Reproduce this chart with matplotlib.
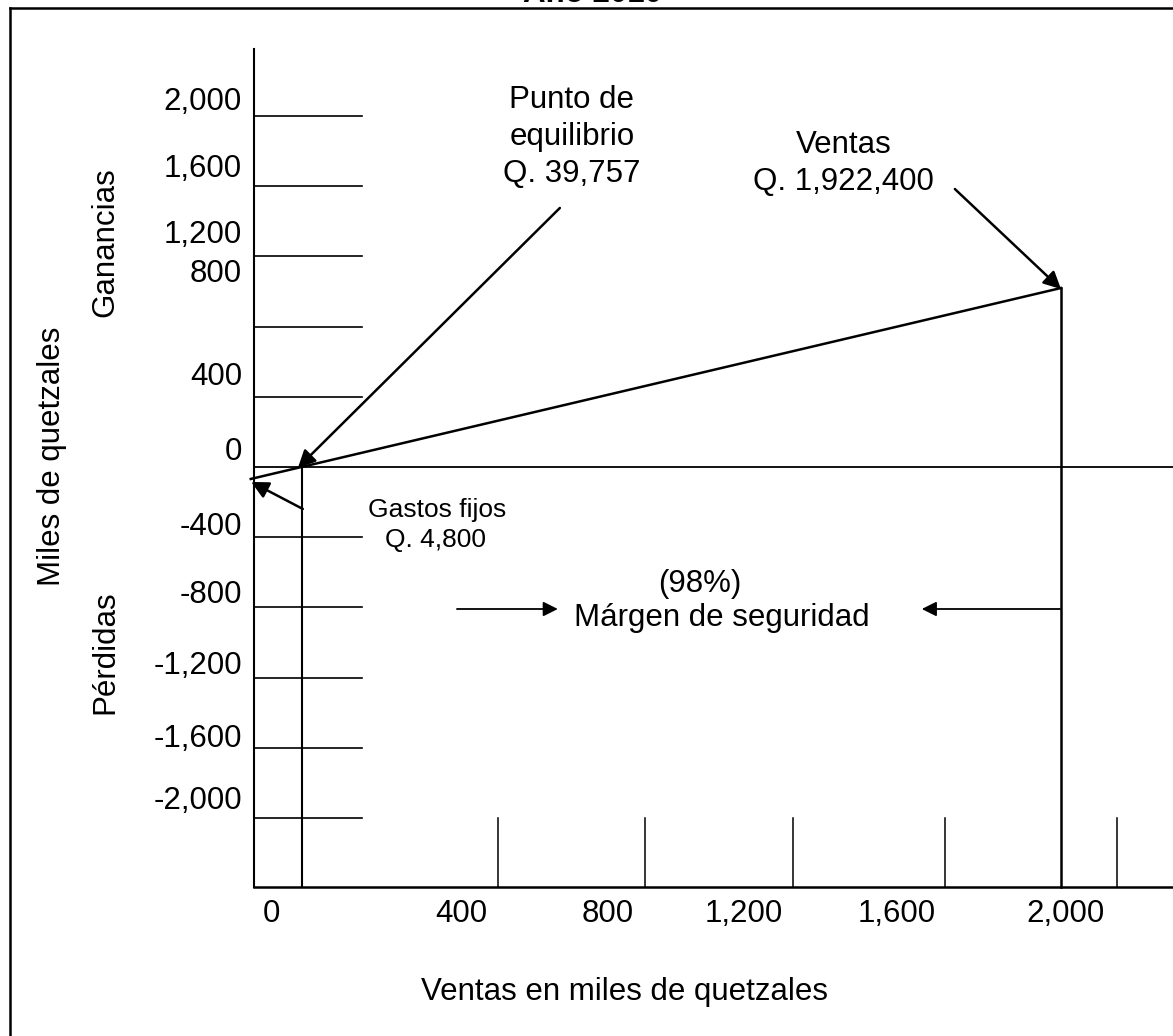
import matplotlib
matplotlib.use('Agg')
import matplotlib.pyplot as plt

plt.rcParams['font.family'] = ['Liberation Sans', 'DejaVu Sans']

# valores en miles de quetzales
y_ticks = [2000, 1600, 1200, 800, 400, 0, -400, -800, -1200, -1600, -2000]
y_labels = ['2,000', '1,600', '1,200', '800', '400', '0', '-400', '-800', '-1,200', '-1,600', '-2,000']
x_labels = ['0', '400', '800', '1,200', '1,600', '2,000']
ventas = 1922.4
punto_eq = 39.757
gastos_fijos = 4.8
margen = 98

# the drawing is not to scale, so these are where things sit in the sketch
y_label_at = [2034, 1652, 1276, 1054, 467, 40, -387, -775, -1177, -1593, -1946]
x_label_at = [42, 515, 877, 1214, 1594, 2012]
x_marks = [605, 969, 1336, 1713, 2139]
eq_x = 119
sales_x = 2000
sales_y = 1020
start_pt = (-8, -68)

fig = plt.figure(figsize=(11.73, 10.36), dpi=100)
ax = fig.add_axes([0, 0, 1, 1])
ax.set_xlim(-629.5, 2277.6)
ax.set_ylim(-3242, 2661)
ax.axis('off')

xmax = 2277.6
bottom = -2393
fs = 22.5

# marco
ax.plot([-604.7, -604.7], [-3242, 2615], color='k', lw=1.8)
ax.plot([-604.7, xmax], [2615, 2615], color='k', lw=1.8)

# ejes
ax.plot([0, 0], [bottom, 2382], color='k', lw=1.5)
ax.plot([0, xmax], [bottom, bottom], color='k', lw=1.8)
ax.plot([0, xmax], [0, 0], color='k', lw=1.3)

for v in y_ticks:
    if v != 0:
        ax.plot([0, 268], [v, v], color='k', lw=1.2)
for lab, v in zip(y_labels, y_label_at):
    ax.text(-29.7, v, lab, ha='right', va='baseline', fontsize=fs)

for u in x_marks:
    ax.plot([u, u], [-2000, bottom], color='k', lw=1.1)
for lab, u in zip(x_labels, x_label_at):
    ax.text(u, -2593, lab, ha='center', va='baseline', fontsize=fs)

# punto de equilibrio y ventas
ax.plot([eq_x, eq_x], [0, bottom], color='k', lw=1.5)
ax.plot([sales_x, sales_x], [sales_y, bottom], color='k', lw=1.8)
ax.plot([start_pt[0], sales_x], [start_pt[1], sales_y], color='k', lw=1.8)

arrow = dict(arrowstyle='-|>', color='k', lw=1.8, shrinkA=0, shrinkB=0, mutation_scale=26)
ax.annotate('', xy=(109, -4), xytext=(758, 1476), arrowprops=arrow)
ax.annotate('', xy=(sales_x, 1014), xytext=(1737, 1584), arrowprops=arrow)
ax.annotate('', xy=(-7, -85), xytext=(121, -239), arrowprops=arrow)
small = dict(arrowstyle='-|>', color='k', lw=1.3, shrinkA=0, shrinkB=0, mutation_scale=22)
ax.annotate('', xy=(753, -809), xytext=(503, -809), arrowprops=small)
ax.annotate('', xy=(1655, -809), xytext=(sales_x - 2, -809), arrowprops=small)

# textos
ax.text(840, 2650, 'Año 2010', ha='center', va='baseline', fontsize=fs, fontweight='bold')
ax.text(788, 2046, 'Punto de', ha='center', va='baseline', fontsize=fs)
ax.text(788, 1835, 'equilibrio', ha='center', va='baseline', fontsize=fs)
ax.text(788, 1624, 'Q. ' + '{:.3f}'.format(punto_eq).replace('.', ','), ha='center', va='baseline', fontsize=fs)
ax.text(1462, 1789, 'Ventas', ha='center', va='baseline', fontsize=fs)
ax.text(1462, 1578, 'Q. {:,.0f}'.format(ventas * 1000), ha='center', va='baseline', fontsize=fs)
ax.text(453, -285, 'Gastos fijos', ha='center', va='baseline', fontsize=19)
ax.text(449, -456, 'Q. {:,.0f}'.format(gastos_fijos * 1000), ha='center', va='baseline', fontsize=19)
ax.text(1105, -712, '({}%)'.format(margen), ha='center', va='baseline', fontsize=fs)
ax.text(1160, -906, 'Márgen de seguridad', ha='center', va='baseline', fontsize=fs)
ax.text(917, -3037, 'Ventas en miles de quetzales', ha='center', va='baseline', fontsize=fs)

ax.text(-500, 63, 'Miles de quetzales', rotation=90, ha='center', va='center', fontsize=fs)
ax.text(-369, 1282, 'Ganancias', rotation=90, ha='center', va='center', fontsize=fs)
ax.text(-369, -1054, 'Pérdidas', rotation=90, ha='center', va='center', fontsize=fs)

fig.savefig('out.png', dpi=100, facecolor='white')
